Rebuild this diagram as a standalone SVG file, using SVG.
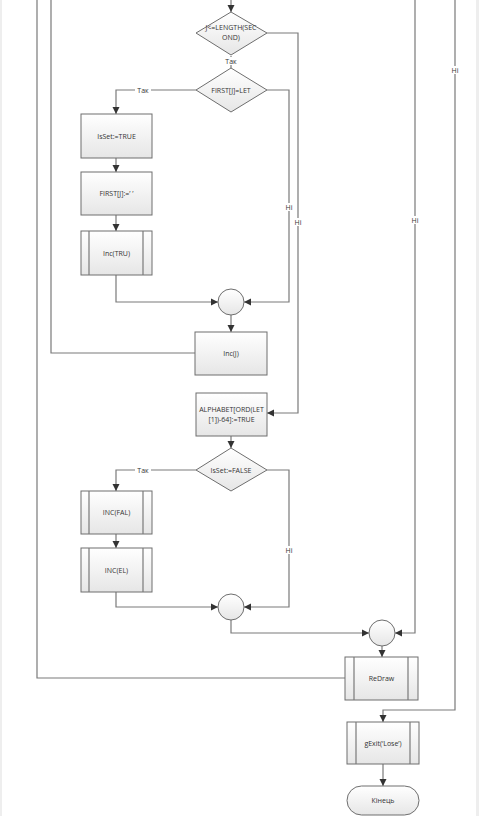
<svg xmlns="http://www.w3.org/2000/svg" width="479" height="816" viewBox="0 0 479 816">
<defs>
<linearGradient id="g" x1="0" y1="0" x2="0" y2="1">
<stop offset="0" stop-color="#ffffff"/>
<stop offset="1" stop-color="#e6e6e6"/>
</linearGradient>
<marker id="a" markerWidth="8" markerHeight="8" refX="7" refY="4" orient="auto" markerUnits="userSpaceOnUse">
<path d="M0,0.5 L7,4 L0,7.5 Z" fill="#333"/>
</marker>
<style>
.s{fill:url(#g);stroke:#6e6e6e;stroke-width:1}
.l{fill:none;stroke:#7a7a7a;stroke-width:1.2}
.t{font-family:"Open Sans","Liberation Sans",sans-serif;font-size:7px;fill:#333;text-anchor:middle}
.lb{fill:#fff}
</style>
</defs>
<rect width="479" height="816" fill="#fff"/>
<rect x="0" y="0" width="2" height="816" fill="#eeeeee"/>
<rect x="476" y="0" width="3" height="816" fill="#eeeeee"/>

<g id="connectors">
<path class="l" d="M231,0 V12" marker-end="url(#a)"/>
<path class="l" d="M267,33 H298 V413 H267" marker-end="url(#a)"/>
<path class="l" d="M231,56 V68"/>
<path class="l" d="M196,90 H116 V114" marker-end="url(#a)"/>
<path class="l" d="M116,158 V172" marker-end="url(#a)"/>
<path class="l" d="M116,215 V231" marker-end="url(#a)"/>
<path class="l" d="M116,275 V302 H218" marker-end="url(#a)"/>
<path class="l" d="M267,90 H289 V302 H244" marker-end="url(#a)"/>
<path class="l" d="M231,315 V332" marker-end="url(#a)"/>
<path class="l" d="M195,353 H51 V0"/>
<path class="l" d="M231,436 V448" marker-end="url(#a)"/>
<path class="l" d="M196,470 H116 V491" marker-end="url(#a)"/>
<path class="l" d="M116,534 V548" marker-end="url(#a)"/>
<path class="l" d="M116,592 V607 H218" marker-end="url(#a)"/>
<path class="l" d="M267,470 H289 V607 H244" marker-end="url(#a)"/>
<path class="l" d="M231,620 V633 H369" marker-end="url(#a)"/>
<path class="l" d="M415,0 V633 H395" marker-end="url(#a)"/>
<path class="l" d="M382,646 V657" marker-end="url(#a)"/>
<path class="l" d="M345,678 H37 V0"/>
<path class="l" d="M455,0 V710 H383 V722" marker-end="url(#a)"/>
<path class="l" d="M383,764 V786" marker-end="url(#a)"/>
<rect class="lb" x="223" y="57" width="16" height="8"/>
<text class="t" x="231" y="63.5">Так</text>
<rect class="lb" x="135" y="86" width="16" height="8"/>
<text class="t" x="143" y="92.5">Так</text>
<rect class="lb" x="135" y="466" width="16" height="8"/>
<text class="t" x="143" y="472.5">Так</text>
<rect class="lb" x="284" y="203" width="10" height="8"/>
<text class="t" x="289" y="209.5">Hi</text>
<rect class="lb" x="293" y="218" width="10" height="8"/>
<text class="t" x="298" y="224.5">Hi</text>
<rect class="lb" x="284" y="546" width="10" height="8"/>
<text class="t" x="289" y="552.5">Hi</text>
<rect class="lb" x="410" y="216" width="10" height="8"/>
<text class="t" x="415" y="222.5">Hi</text>
<rect class="lb" x="450" y="66" width="10" height="8"/>
<text class="t" x="455" y="72.5">Hi</text>
</g>

<g id="d1">
<polygon class="s" points="231,12 267,33 231,55 196,33"/>
<text class="t" x="231" y="30">J&lt;=LENGTH(SEC</text>
<text class="t" x="231" y="40">OND)</text>
</g>
<g id="d2">
<polygon class="s" points="231,68 267,90 231,112 196,90"/>
<text class="t" x="231" y="92.5">FIRST[J]=LET</text>
</g>
<g id="b1">
<rect class="s" x="81" y="114" width="71" height="44"/>
<text class="t" x="116.5" y="138.5">IsSet:=TRUE</text>
</g>
<g id="b2">
<rect class="s" x="81" y="172" width="71" height="43"/>
<text class="t" x="116.5" y="196">FIRST[J]:=’ ’</text>
</g>
<g id="b3">
<rect class="s" x="81" y="231" width="71" height="44"/>
<path class="l" d="M89,231 V275 M143,231 V275"/>
<text class="t" x="116.5" y="255.5">Inc(TRU)</text>
</g>
<g id="c1">
<circle class="s" cx="231" cy="302" r="13"/>
</g>
<g id="b4">
<rect class="s" x="195" y="332" width="72" height="43"/>
<text class="t" x="231" y="356">Inc(J)</text>
</g>
<g id="b5">
<rect class="s" x="196" y="393" width="71" height="43"/>
<text class="t" x="231.5" y="412">ALPHABET[ORD(LET</text>
<text class="t" x="231.5" y="422">[1])-64]:=TRUE</text>
</g>
<g id="d3">
<polygon class="s" points="231,448 267,470 231,491 196,470"/>
<text class="t" x="231" y="472.5">IsSet:=FALSE</text>
</g>
<g id="b6">
<rect class="s" x="81" y="491" width="71" height="43"/>
<path class="l" d="M89,491 V534 M143,491 V534"/>
<text class="t" x="116.5" y="515">INC(FAL)</text>
</g>
<g id="b7">
<rect class="s" x="81" y="548" width="71" height="44"/>
<path class="l" d="M89,548 V592 M143,548 V592"/>
<text class="t" x="116.5" y="572.5">INC(EL)</text>
</g>
<g id="c2">
<circle class="s" cx="231" cy="607" r="13"/>
</g>
<g id="c3">
<circle class="s" cx="382" cy="633" r="13"/>
</g>
<g id="b8">
<rect class="s" x="345" y="657" width="73" height="43"/>
<path class="l" d="M354,657 V700 M408,657 V700"/>
<text class="t" x="381.5" y="681">ReDraw</text>
</g>
<g id="b9">
<rect class="s" x="347" y="722" width="72" height="42"/>
<path class="l" d="M356,722 V764 M410,722 V764"/>
<text class="t" x="383" y="745.5">gExit(‘Lose’)</text>
</g>
<g id="end">
<rect class="s" x="347" y="786" width="72" height="29" rx="14.5" ry="14.5"/>
<text class="t" x="383" y="803">Кінець</text>
</g>
</svg>
